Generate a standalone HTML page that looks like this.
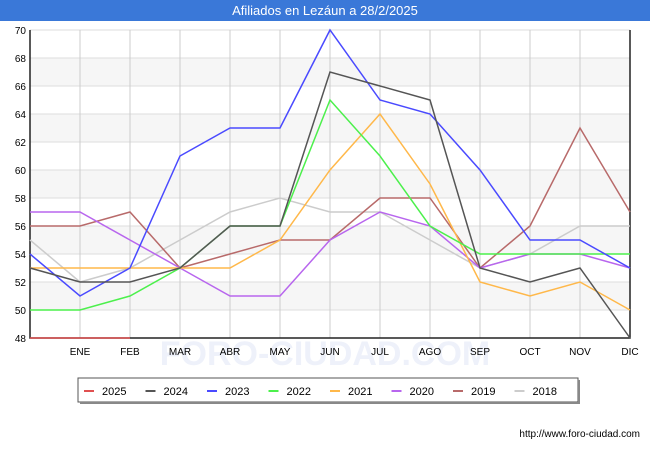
<!DOCTYPE html>
<html><head><meta charset="utf-8"><style>
body{margin:0;width:650px;height:450px;background:#fff;font-family:"Liberation Sans",sans-serif;overflow:hidden}
</style></head><body>
<svg width="650" height="450" xmlns="http://www.w3.org/2000/svg">
<rect x="0" y="0" width="650" height="21" fill="#3a78d8"/>
<text x="325" y="15" text-anchor="middle" fill="#fff" font-size="13">Afiliados en Lezáun a 28/2/2025</text>
<g id="grid"></g>
<text x="325" y="365" text-anchor="middle" fill="#eef1fa" font-size="34" font-weight="bold">FORO-CIUDAD.COM</text>
<g id="axes"></g>
<g id="series"></g>
<g id="legend"></g>
<text x="640" y="437" text-anchor="end" font-size="10" fill="#000">http://www.foro-ciudad.com</text>
</svg>
<script>
const months=["","ENE","FEB","MAR","ABR","MAY","JUN","JUL","AGO","SEP","OCT","NOV","DIC"];
const yTicks=[48,50,52,54,56,58,60,62,64,66,68,70];
const seriesNames=["2025","2024","2023","2022","2021","2020","2019","2018"];
const seriesColors=["#e05050","#555555","#4a4aff","#4cf04c","#ffb84a","#b866ee","#b86a6a","#cccccc"];
const s2025=[48,48,48];
const s2024=[53,52,52,53,56,56,67,66,65,53,52,53,48];
const s2023=[54,51,53,61,63,63,70,65,64,60,55,55,53];
const s2022=[50,50,51,53,56,56,65,61,56,54,54,54,54];
const s2021=[53,53,53,53,53,55,60,64,59,52,51,52,50];
const s2020=[57,57,55,53,51,51,55,57,56,53,54,54,53];
const s2019=[56,56,57,53,54,55,55,58,58,53,56,63,57];
const s2018=[55,52,53,55,57,58,57,57,55,53,54,56,56];
const allSeries=[s2025,s2024,s2023,s2022,s2021,s2020,s2019,s2018];
const X0=30,X1=630,Y0=338,Y1=30,ymin=48,ymax=70;
const xs=i=>X0+i*(X1-X0)/(months.length-1);
const ys=v=>Y0-(v-ymin)*(Y0-Y1)/(ymax-ymin);
const NS="http://www.w3.org/2000/svg";
function mk(t,a,p){const e=document.createElementNS(NS,t);for(const k in a)e.setAttribute(k,a[k]);p.appendChild(e);return e;}
const grid=document.getElementById('grid'),ax=document.getElementById('axes'),sg=document.getElementById('series'),lg=document.getElementById('legend');
for(let i=0;i<yTicks.length-1;i++){
 if(i%2==1){const r=mk('rect',{x:X0,y:ys(yTicks[i+1]),width:X1-X0,height:ys(yTicks[i])-ys(yTicks[i+1]),fill:'#f6f6f6'},grid);
 }
}
yTicks.forEach(v=>{const l=mk('line',{x1:X0,x2:X1,y1:ys(v),y2:ys(v),stroke:'#dddddd'},grid);
 
 const t=mk('text',{x:X0-4,y:ys(v)+4,'text-anchor':'end','font-size':10,fill:'#000'},ax);t.textContent=v;
 });
months.forEach((m,i)=>{if(i==0)return;const l=mk('line',{x1:xs(i),x2:xs(i),y1:Y1,y2:Y0,stroke:'#cccccc'},grid);
 
 const t=mk('text',{x:xs(i),y:Y0+17,'text-anchor':'middle','font-size':10,fill:'#000'},ax);t.textContent=m;
 });
const axl=mk('path',{d:`M${X0} ${Y1}V${Y0}H${X1}V${Y1}`,stroke:'#222',fill:'none','stroke-width':1.5},ax);

for(let k=allSeries.length-1;k>=0;k--){const d=allSeries[k].map((v,i)=>(i?'L':'M')+xs(i)+' '+ys(v)).join('');
 const p=mk('path',{d:d,stroke:seriesColors[k],fill:'none','stroke-width':1.5},sg);
 }
const lb=mk('rect',{x:78,y:378,width:500,height:24,fill:'#fff',stroke:'#555'},lg);

mk('path',{d:'M80 403H579V380',stroke:'#888','stroke-width':2,fill:'none'},lg);
seriesNames.forEach((n,k)=>{const x=84+k*61.5;const g=mk('g',{},lg);
 
 mk('line',{x1:x,x2:x+10,y1:391,y2:391,stroke:seriesColors[k],'stroke-width':2},g);
 const t=mk('text',{x:x+18,y:395,'font-size':11,fill:'#000'},g);t.textContent=n;});
</script>
</body></html>
